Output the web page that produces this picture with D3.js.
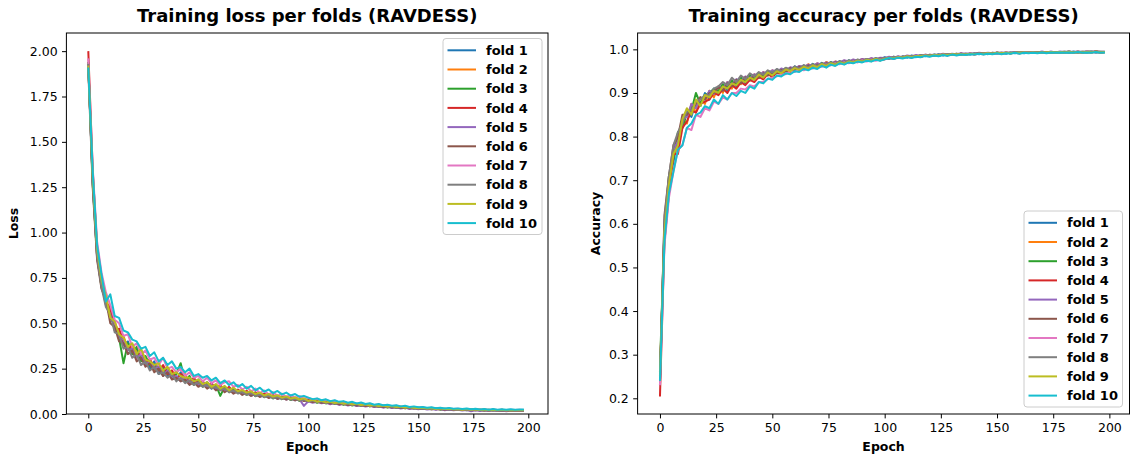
<!DOCTYPE html>
<html><head><meta charset="utf-8">
<script src="https://cdn.jsdelivr.net/npm/d3@7"></script>
<style>body{margin:0;background:#fff;} svg{display:block;font-family:"DejaVu Sans",sans-serif;}</style>
</head><body><svg id="c" width="1132" height="457"></svg>
<script>
const epochs=[0,2,4,6,8,10,12,14,16,18,20,22,24,26,28,30,32,34,36,38,40,42,44,46,48,50,52,54,56,58,60,62,64,66,68,70,72,74,76,78,80,82,84,86,88,90,92,94,96,98,100,102,104,106,108,110,112,114,116,118,120,122,124,126,128,130,132,134,136,138,140,142,144,146,148,150,152,154,156,158,160,162,164,166,168,170,172,174,176,178,180,182,184,186,188,190,192,194,196,198];
const foldNames=["fold 1","fold 2","fold 3","fold 4","fold 5","fold 6","fold 7","fold 8","fold 9","fold 10"];
const foldColors=["#1f77b4","#ff7f0e","#2ca02c","#d62728","#9467bd","#8c564b","#e377c2","#7f7f7f","#bcbd22","#17becf"];
const epochTicks=[0,25,50,75,100,125,150,175,200];
const lossTicks=[0,0.25,0.5,0.75,1.0,1.25,1.5,1.75,2.0];
const accTicks=[0.2,0.3,0.4,0.5,0.6,0.7,0.8,0.9,1.0];

const loss1=[1.93,1.28,.88,.72,.60,
.58,.47,.46,.38,.40,.33,.36,.30,.31,.25,.29,.22,.26,.21,.22,.19,.23,.18,.20,.17,
.185,.155,.17,.14,.16,.135,.15,.125,.14,.118,.13,.11,.122,.1,.115,.097,.108,.09,.1,.085,.094,.08,.09,.076,.083,
.077,.07,.073,.064,.07,.06,.064,.055,.06,.051,.056,.047,.052,.044,.048,.041,.046,.038,.042,.036,.04,.033,.037,.031,.035,
.029,.033,.027,.031,.026,.03,.024,.028,.023,.027,.022,.026,.021,.025,.02,.024,.019,.023,.019,.022,.018,.022,.018,.021,.02];
const loss2=[1.91,1.33,.92,.75,.64,
.55,.51,.44,.43,.36,.37,.35,.31,.29,.30,.24,.27,.23,.22,.24,.20,.19,.22,.17,.19,
.16,.18,.15,.165,.14,.16,.13,.14,.135,.12,.128,.112,.12,.105,.108,.1,.102,.092,.098,.086,.092,.08,.087,.075,.08,
.074,.076,.066,.072,.061,.067,.058,.062,.053,.059,.05,.054,.048,.05,.043,.048,.04,.044,.037,.042,.035,.039,.032,.036,.031,
.033,.028,.032,.026,.029,.025,.028,.023,.027,.022,.025,.022,.024,.02,.024,.019,.022,.02,.021,.018,.022,.019,.021,.02,.02];
const loss3=[1.94,1.27,.87,.70,.62,
.53,.49,.42,.28,.39,.33,.37,.29,.32,.27,.25,.26,.21,.25,.20,.22,.28,.18,.21,.16,
.19,.15,.175,.145,.16,.10,.15,.12,.14,.115,.13,.105,.122,.098,.112,.093,.105,.086,.1,.082,.094,.077,.089,.072,.081,
.068,.075,.062,.071,.058,.066,.055,.061,.051,.058,.047,.055,.044,.05,.042,.047,.039,.044,.036,.041,.034,.039,.031,.036,.03,
.034,.027,.031,.026,.03,.024,.029,.023,.027,.022,.026,.021,.025,.02,.024,.019,.023,.019,.022,.018,.021,.019,.022,.018,.021];
const loss4=[2.0,1.35,.90,.76,.61,
.59,.46,.47,.40,.36,.38,.31,.34,.28,.30,.26,.24,.27,.22,.24,.19,.22,.20,.17,.2,
.165,.18,.15,.17,.14,.155,.13,.15,.12,.135,.115,.128,.107,.12,.1,.112,.095,.104,.09,.097,.085,.092,.08,.086,.076,
.078,.069,.074,.064,.07,.06,.066,.056,.062,.053,.058,.05,.053,.047,.05,.045,.047,.041,.045,.038,.042,.036,.039,.034,.036,
.031,.035,.029,.032,.027,.031,.026,.029,.025,.028,.023,.027,.022,.026,.021,.025,.02,.024,.02,.023,.019,.022,.02,.021,.02];
const loss5=[1.92,1.29,.86,.71,.61,
.54,.50,.42,.41,.35,.36,.31,.33,.27,.29,.25,.26,.21,.24,.2,.21,.18,.2,.165,.185,
.155,.175,.145,.16,.135,.15,.125,.14,.118,.128,.11,.12,.1,.113,.095,.104,.09,.098,.083,.092,.08,.086,.075,.081,.045,
.07,.062,.067,.059,.063,.054,.06,.05,.056,.047,.052,.044,.048,.041,.045,.038,.042,.035,.04,.033,.037,.03,.035,.028,.032,
.026,.03,.025,.028,.023,.027,.021,.025,.02,.024,.019,.022,.015,.021,.017,.02,.016,.02,.017,.019,.015,.019,.016,.018,.017];
const loss6=[1.90,1.25,.85,.69,.63,
.50,.48,.40,.39,.33,.35,.29,.31,.26,.28,.23,.25,.21,.23,.19,.2,.18,.19,.16,.175,
.15,.165,.14,.155,.13,.145,.12,.135,.112,.125,.105,.118,.1,.11,.094,.104,.088,.097,.084,.092,.079,.087,.075,.082,.071,
.074,.066,.07,.062,.065,.058,.062,.054,.057,.05,.054,.047,.05,.044,.047,.041,.044,.038,.041,.036,.038,.033,.036,.031,.033,
.03,.032,.027,.03,.026,.029,.024,.027,.023,.026,.022,.024,.021,.023,.02,.022,.019,.022,.019,.021,.018,.02,.019,.02,.019];
const loss7=[1.96,1.36,.95,.78,.67,
.60,.52,.50,.43,.44,.37,.39,.33,.35,.30,.31,.27,.31,.25,.26,.23,.25,.21,.23,.2,
.21,.18,.2,.17,.185,.16,.175,.18,.15,.16,.135,.15,.125,.14,.115,.13,.108,.12,.1,.112,.095,.104,.09,.098,.085,
.09,.078,.084,.072,.079,.068,.073,.064,.068,.06,.064,.056,.06,.052,.056,.049,.052,.046,.048,.043,.045,.04,.042,.037,.039,
.035,.037,.032,.035,.03,.033,.028,.031,.027,.029,.026,.028,.024,.027,.023,.026,.022,.025,.022,.024,.021,.024,.022,.023,.022];
const loss8=[1.93,1.27,.87,.70,.59,
.55,.45,.44,.36,.37,.31,.33,.27,.29,.24,.26,.22,.23,.2,.22,.18,.2,.17,.185,.16,
.175,.15,.16,.14,.15,.13,.14,.12,.13,.113,.122,.105,.115,.099,.107,.093,.1,.087,.094,.082,.089,.078,.084,.074,.079,
.07,.074,.065,.07,.061,.066,.057,.062,.054,.058,.05,.055,.047,.051,.044,.048,.041,.045,.039,.042,.036,.039,.034,.037,.032,
.034,.03,.032,.028,.03,.026,.029,.025,.027,.024,.026,.023,.025,.022,.024,.021,.023,.02,.022,.02,.021,.019,.021,.02,.02];
const loss9=[1.92,1.31,.91,.74,.65,
.53,.51,.44,.42,.37,.39,.33,.36,.30,.29,.27,.28,.24,.26,.22,.23,.21,.2,.2,.18,
.19,.165,.175,.15,.165,.14,.155,.13,.145,.125,.132,.118,.125,.11,.118,.102,.11,.096,.103,.09,.097,.085,.091,.08,.086,
.072,.078,.068,.073,.064,.069,.06,.065,.057,.061,.053,.057,.05,.054,.047,.05,.044,.047,.041,.044,.038,.041,.036,.038,.034,
.032,.035,.03,.033,.028,.031,.027,.029,.026,.028,.024,.027,.023,.026,.022,.025,.021,.024,.021,.023,.02,.022,.02,.022,.021];
const loss10=[1.91,1.34,.93,.77,.62,
.66,.54,.53,.46,.45,.41,.40,.36,.37,.32,.34,.29,.31,.27,.29,.25,.26,.23,.25,.21,
.22,.2,.21,.185,.2,.17,.185,.16,.175,.15,.165,.14,.155,.13,.145,.123,.135,.115,.127,.108,.118,.102,.11,.095,.1,
.09,.082,.086,.076,.081,.071,.076,.067,.071,.062,.067,.058,.063,.055,.059,.051,.055,.048,.051,.045,.048,.042,.045,.039,.042,
.037,.039,.034,.037,.032,.035,.03,.033,.029,.031,.027,.03,.026,.029,.025,.028,.024,.027,.024,.026,.023,.026,.024,.025,.025];

const acc1=[.24,.6,.7,.74,.80,.82,.86,.845,.88,.87,.9,.885,.91,.898,.92,.905,.928,.915,.935,.922,.94,.93,.946,.937,.95,.942,.954,.947,.957,.951,.961,.955,.963,.958,.967,.96,.969,.963,.971,.966,.973,.968,.975,.97,.976,.972,.978,.974,.98,.976,
.982,.978,.983,.98,.984,.981,.986,.982,.987,.984,.987,.985,.989,.986,.989,.987,.99,.987,.99,.988,.991,.989,.991,.989,.992,.99,.992,.99,.993,.991,.993,.991,.993,.992,.994,.992,.994,.992,.994,.993,.994,.992,.995,.993,.994,.993,.995,.993,.994,.993];
const acc2=[.26,.57,.68,.76,.77,.84,.83,.875,.855,.89,.875,.905,.89,.915,.9,.925,.91,.93,.92,.937,.928,.943,.934,.948,.94,.952,.945,.955,.95,.958,.954,.962,.957,.966,.96,.968,.963,.971,.966,.972,.969,.974,.97,.976,.972,.978,.974,.979,.976,.98,
.978,.982,.979,.983,.981,.984,.982,.986,.983,.987,.985,.987,.986,.988,.987,.989,.987,.99,.988,.99,.989,.991,.989,.991,.99,.992,.99,.992,.991,.993,.991,.993,.992,.993,.992,.994,.993,.994,.992,.994,.993,.995,.993,.994,.993,.995,.994,.995,.993,.994];
const acc3=[.27,.59,.71,.75,.81,.82,.855,.86,.9,.875,.895,.9,.91,.905,.92,.912,.928,.92,.935,.926,.94,.932,.945,.938,.949,.944,.953,.948,.957,.952,.96,.955,.962,.958,.965,.961,.968,.964,.97,.966,.972,.968,.974,.97,.975,.971,.977,.973,.978,.975,
.979,.981,.98,.983,.981,.984,.983,.985,.984,.986,.985,.988,.986,.988,.987,.989,.988,.99,.988,.99,.989,.991,.99,.991,.99,.992,.991,.992,.991,.993,.992,.993,.992,.993,.992,.994,.993,.994,.993,.994,.993,.995,.993,.994,.993,.995,.994,.994,.993,.994];
const acc4=[.204,.56,.67,.76,.76,.82,.835,.86,.855,.875,.88,.885,.9,.895,.91,.9,.918,.91,.925,.918,.93,.925,.937,.931,.944,.936,.948,.942,.952,.948,.956,.952,.959,.955,.962,.958,.966,.961,.969,.964,.971,.967,.973,.969,.975,.971,.977,.973,.978,.975,
.977,.98,.979,.982,.98,.983,.982,.985,.983,.986,.985,.987,.986,.988,.987,.988,.987,.99,.988,.99,.989,.99,.99,.991,.99,.992,.99,.992,.991,.992,.991,.993,.992,.993,.992,.993,.992,.994,.993,.994,.993,.994,.993,.994,.993,.994,.993,.995,.993,.994];
const acc5=[.25,.59,.70,.77,.79,.84,.845,.875,.865,.89,.885,.905,.898,.915,.908,.925,.918,.932,.926,.938,.934,.943,.938,.948,.943,.952,.948,.956,.952,.959,.956,.962,.96,.965,.962,.968,.965,.97,.967,.972,.97,.975,.972,.977,.974,.978,.976,.98,.977,.981,
.98,.983,.981,.984,.982,.986,.984,.987,.985,.988,.986,.988,.987,.99,.988,.99,.989,.991,.99,.991,.99,.992,.991,.992,.991,.993,.992,.993,.992,.994,.992,.994,.993,.994,.993,.995,.993,.995,.993,.995,.994,.995,.994,.995,.994,.995,.994,.996,.994,.995];
const acc6=[.23,.62,.71,.78,.80,.85,.85,.86,.875,.89,.885,.9,.9,.915,.905,.922,.915,.93,.922,.936,.93,.94,.935,.945,.94,.948,.945,.953,.949,.957,.952,.96,.956,.963,.959,.965,.962,.968,.965,.97,.968,.972,.97,.974,.972,.976,.974,.977,.976,.979,
.978,.981,.979,.982,.981,.984,.982,.985,.983,.986,.985,.987,.986,.988,.987,.989,.988,.99,.988,.99,.989,.991,.99,.991,.99,.992,.991,.992,.991,.993,.992,.993,.992,.993,.992,.994,.993,.994,.993,.994,.993,.994,.993,.995,.993,.994,.993,.995,.994,.994];
const acc7=[.23,.55,.66,.72,.77,.78,.82,.815,.85,.845,.865,.86,.88,.875,.89,.885,.9,.9,.91,.908,.918,.915,.925,.925,.932,.935,.938,.943,.943,.95,.948,.955,.952,.958,.956,.962,.96,.966,.963,.969,.966,.971,.968,.973,.97,.975,.972,.977,.974,.978,
.977,.98,.978,.982,.98,.983,.981,.984,.983,.986,.984,.987,.985,.988,.986,.988,.987,.989,.988,.99,.988,.99,.989,.991,.99,.991,.99,.992,.991,.992,.991,.993,.992,.993,.992,.993,.992,.994,.993,.994,.993,.994,.993,.994,.993,.995,.993,.994,.993,.994];
const acc8=[.24,.61,.71,.78,.81,.83,.86,.86,.88,.885,.895,.895,.91,.915,.925,.918,.935,.925,.94,.932,.945,.938,.948,.942,.952,.947,.955,.95,.958,.953,.961,.956,.964,.959,.966,.962,.968,.965,.97,.967,.973,.969,.975,.971,.977,.973,.978,.975,.98,.977,
.981,.979,.983,.98,.984,.982,.985,.983,.987,.985,.988,.986,.988,.987,.989,.988,.99,.988,.99,.989,.991,.99,.991,.99,.992,.991,.992,.991,.993,.992,.993,.992,.993,.992,.994,.993,.994,.993,.994,.993,.995,.993,.994,.993,.995,.994,.995,.993,.995,.994];
const acc9=[.25,.58,.69,.76,.78,.84,.865,.85,.885,.87,.895,.89,.905,.9,.915,.91,.922,.918,.93,.925,.935,.93,.942,.935,.947,.94,.95,.945,.954,.95,.957,.953,.96,.956,.963,.959,.966,.962,.968,.965,.97,.967,.972,.97,.974,.972,.976,.974,.978,.975,
.978,.981,.979,.982,.981,.984,.982,.985,.984,.986,.985,.987,.986,.988,.987,.989,.988,.989,.988,.99,.989,.99,.99,.991,.99,.992,.991,.992,.991,.992,.992,.993,.992,.993,.992,.993,.993,.994,.993,.994,.993,.994,.993,.994,.993,.994,.993,.995,.993,.994];
const acc10=[.24,.56,.67,.72,.77,.78,.82,.83,.85,.855,.87,.865,.885,.875,.895,.885,.9,.893,.905,.9,.915,.91,.925,.922,.933,.93,.94,.938,.945,.943,.95,.948,.955,.952,.958,.955,.962,.958,.965,.962,.968,.965,.97,.968,.972,.97,.974,.972,.976,.974,
.977,.98,.978,.981,.979,.982,.98,.983,.982,.985,.983,.986,.984,.987,.985,.988,.986,.988,.987,.989,.988,.99,.988,.99,.989,.991,.989,.991,.99,.992,.99,.992,.991,.992,.991,.993,.991,.993,.992,.993,.992,.993,.992,.994,.992,.993,.992,.994,.992,.993];

const lossSeries=[loss1,loss2,loss3,loss4,loss5,loss6,loss7,loss8,loss9,loss10];
const accSeries=[acc1,acc2,acc3,acc4,acc5,acc6,acc7,acc8,acc9,acc10];

const svg=d3.select("#c");
const TICK_FS=12.5, LABEL_FS=12.5, LEG_FS=13, TITLE_FS=18;

function panel(o){
  const g=svg.append("g");
  const x=d3.scaleLinear().domain([-9.95,208.95]).range([o.x0,o.x1]);
  const y=d3.scaleLinear().domain(o.yDomain).range([o.y1,o.y0]);
  const line=d3.line().x(d=>x(d[0])).y(d=>y(d[1]));
  o.series.forEach((s,i)=>{
    const n=Math.min(s.length,epochs.length);
    const pts=[];for(let k=0;k<n;k++)pts.push([epochs[k],s[k]]);
    g.append("path").attr("d",line(pts)).attr("fill","none")
     .attr("stroke",foldColors[i]).attr("stroke-width",2).attr("stroke-linejoin","round");
  });
  g.append("rect").attr("x",o.x0).attr("y",o.y0).attr("width",o.x1-o.x0).attr("height",o.y1-o.y0)
   .attr("fill","none").attr("stroke","#000").attr("stroke-width",1);
  const ax=g.append("g").attr("transform",`translate(0,${o.y1})`)
   .call(d3.axisBottom(x).tickValues(epochTicks).tickFormat(d3.format("d")).tickSize(4.4).tickPadding(4.4));
  const ay=g.append("g").attr("transform",`translate(${o.x0},0)`)
   .call(d3.axisLeft(y).tickValues(o.yTicks).tickFormat(d3.format(o.fmt)).tickSize(4.4).tickPadding(4.4));
  [ax,ay].forEach(a=>{a.select(".domain").remove();
    a.selectAll("text").attr("font-size",TICK_FS).attr("font-family","DejaVu Sans").attr("fill","#000");
    a.selectAll("line").attr("stroke","#000").attr("stroke-width",1);});
  const cx=(o.x0+o.x1)/2;
  g.append("text").attr("x",cx).attr("y",22).attr("text-anchor","middle")
   .attr("font-size",TITLE_FS).attr("font-weight","bold").text(o.title);
  g.append("text").attr("x",cx).attr("y",451).attr("text-anchor","middle")
   .attr("font-size",LABEL_FS).attr("font-weight","bold").text("Epoch");
  g.append("text").attr("transform",`translate(${o.ylx},${(o.y0+o.y1)/2}) rotate(-90)`)
   .attr("text-anchor","middle").attr("dy","0.35em")
   .attr("font-size",LABEL_FS).attr("font-weight","bold").text(o.ylabel);
  const L=o.leg;
  const lg=g.append("g");
  lg.append("rect").attr("x",L.x).attr("y",L.y).attr("width",L.w).attr("height",L.h).attr("rx",3)
   .attr("fill","#fff").attr("fill-opacity",0.8).attr("stroke","#cccccc").attr("stroke-width",1);
  foldNames.forEach((nm,i)=>{
    const yy=L.y+11.8+i*19.2;
    lg.append("line").attr("x1",L.x+4.5).attr("x2",L.x+33).attr("y1",yy).attr("y2",yy)
      .attr("stroke",foldColors[i]).attr("stroke-width",2);
    lg.append("text").attr("x",L.x+43).attr("y",yy).attr("dy","0.36em")
      .attr("font-size",LEG_FS).attr("font-weight","bold").text(nm);
  });
}

panel({x0:66.4,x1:548,y0:33,y1:414,yDomain:[0,2.1],yTicks:lossTicks,fmt:".2f",
  series:lossSeries,title:"Training loss per folds (RAVDESS)",ylabel:"Loss",ylx:13.5,
  leg:{x:443,y:38.5,w:99,h:196}});
panel({x0:637.6,x1:1129.5,y0:33,y1:414,yDomain:[0.164,1.0375],yTicks:accTicks,fmt:".1f",
  series:accSeries,title:"Training accuracy per folds (RAVDESS)",ylabel:"Accuracy",ylx:596,
  leg:{x:1024,y:211,w:98.5,h:196}});
</script></body></html>
